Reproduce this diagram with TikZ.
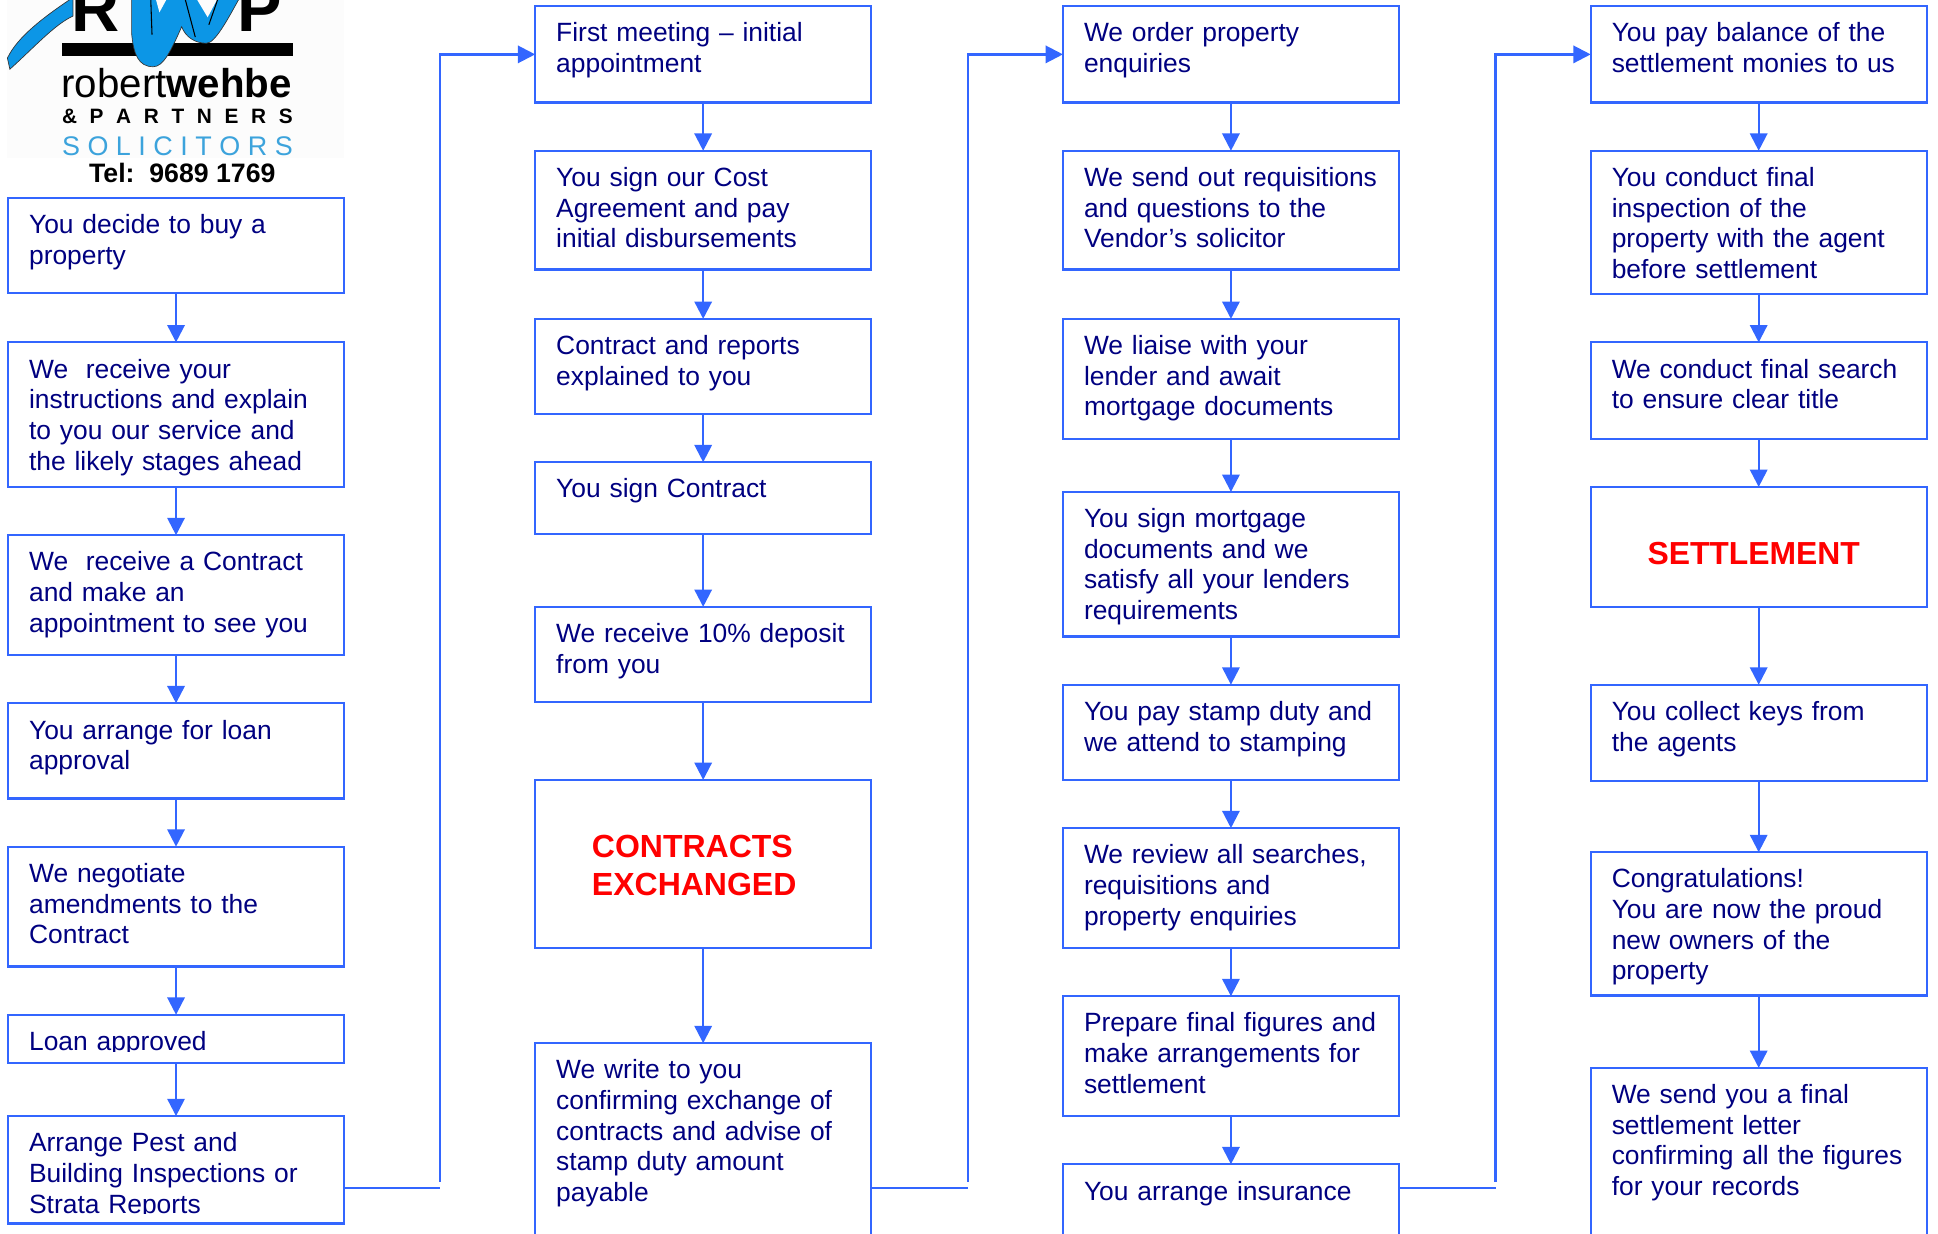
\documentclass[tikz,border=0pt]{standalone}
\usepackage{fontspec}
\setmainfont{Liberation Sans}
\usetikzlibrary{arrows.meta}
\definecolor{flowblue}{HTML}{3366FF}
\definecolor{flownavy}{HTML}{000080}
\definecolor{logoblue}{HTML}{0C96E6}
\definecolor{soliblue}{HTML}{3CA3DC}
\tikzset{
  stepbox/.style={draw=flowblue, line width=1.7pt, anchor=north west, outer sep=0pt,
    inner ysep=0pt, inner xsep=15.8pt, text width=220.4pt, align=left,
    text=flownavy, font=\fontsize{19.8}{23}\selectfont,
    text height=26.8pt, text depth=#1*0.927pt-26.8pt},
  keybox/.style 2 args={draw=flowblue, line width=1.7pt, anchor=north west, outer sep=0pt,
    inner ysep=0pt, inner xsep=42.6pt, text width=166.8pt, align=left,
    text=red, font=\fontsize{#2}{28.5}\selectfont\bfseries,
    text height=58.4pt, text depth=#1*0.927pt-58.4pt},
  flowline/.style={draw=flowblue, line width=1.7pt},
  flowarrow/.style={flowline, -{Triangle[length=13pt,width=13pt]}},
}
\begin{document}
\begin{tikzpicture}[x=0.927pt, y=-0.927pt]
  \clip (0,0) rectangle (1568,998);

  % logo
  \fill[black!1] (6,0) rectangle (278,128);
  \fill[black] (50.4,35) rectangle (236.8,45);
  \node[anchor=base west, inner sep=0pt, font=\fontsize{50}{50}\selectfont\bfseries] (logoR) at (58,25.6) {R};
  \node[anchor=base west, inner sep=0pt, font=\fontsize{50}{50}\selectfont\bfseries] (logoP) at (192,25.6) {P};
  \filldraw[fill=logoblue, draw=black!80, line width=.5pt] (6,47) .. controls (14,30) and (35,14) .. (59,-2) -- (59,13) .. controls (44,20) and (28,38) .. (8,56) -- cycle;
  \filldraw[fill=logoblue, draw=black!80, line width=.5pt] (106.5,-2) -- (106.5,27) .. controls (108,44) and (112,54) .. (124,54)
    .. controls (132,54) and (138,42) .. (147,21.6) .. controls (150,30) and (158,35) .. (167,35)
    .. controls (174,35) and (184,16) .. (194,-2) -- cycle;
  \fill[black!1] (126,-1) -- (129,10) -- (135,-1) -- cycle;
  \fill[black!1] (159,-1) -- (168,14) -- (176,-1) -- cycle;
  \draw[black, line width=.8pt] (122,0) -- (123,28) (150,0) -- (158,30) (176,0) -- (169,20);
  \node[anchor=base west, inner sep=0pt, font=\fontsize{30.2}{30}\selectfont] (logoname) at (49.5,78.7) {robert\textbf{wehbe}};
  \node[anchor=base west, inner sep=0pt, font=\fontsize{15.6}{16}\selectfont\bfseries] (logopart) at (50,100.3)
    {\makebox[173pt][s]{\&\hfill P\hfill A\hfill R\hfill T\hfill N\hfill E\hfill R\hfill S}};
  \node[anchor=base west, inner sep=0pt, text=soliblue, font=\fontsize{20.2}{21}\selectfont] (logosoli) at (50,126)
    {\makebox[173pt][s]{S\hfill O\hfill L\hfill I\hfill C\hfill I\hfill T\hfill O\hfill R\hfill S}};
  \node[anchor=base, inner sep=0pt, font=\fontsize{20}{21}\selectfont\bfseries] (tel) at (147.5,147.5) {Tel:\ \ 9689 1769};

  % first column
  \node[stepbox=77]  (a1) at (6.5,160) {You decide to buy a\\property};
  \node[stepbox=117] (a2) at (6.5,277) {We\ \ receive your\\instructions and explain\\to you our service and\\the likely stages ahead};
  \node[stepbox=97]  (a3) at (6.5,433) {We\ \ receive a Contract\\and make an\\appointment to see you};
  \node[stepbox=77]  (a4) at (6.5,569) {You arrange for loan\\approval};
  \node[stepbox=97]  (a5) at (6.5,685) {We negotiate\\amendments to the\\Contract};
  \node[stepbox=39]  (a6) at (6.5,821) {Loan approved};
  \node[stepbox=87]  (a7) at (6.5,903) {Arrange Pest and\\Building Inspections or\\Strata Reports};
  % descenders are cut off in these two
  \fill[white] (8,851) rectangle (277,858.5);
  \fill[white] (8,982) rectangle (277,988.5);

  % second column
  \node[stepbox=78]  (b1) at (433,5)   {First meeting – initial\\appointment};
  \node[stepbox=96]  (b2) at (433,122) {You sign our Cost\\Agreement and pay\\initial disbursements};
  \node[stepbox=77]  (b3) at (433,258) {Contract and reports\\explained to you};
  \node[stepbox=58]  (b4) at (433,374) {You sign Contract};
  \node[stepbox=77]  (b5) at (433,491) {We receive 10\% deposit\\from you};
  \node[keybox={136}{24}] (b6) at (433,631) {CONTRACTS\\EXCHANGED};
  \node[stepbox=170] (b7) at (433,844) {We write to you\\confirming exchange of\\contracts and advise of\\stamp duty amount\\payable};

  % third column
  \node[stepbox=78]  (c1) at (860,5)   {We order property\\enquiries};
  \node[stepbox=96]  (c2) at (860,122) {We send out requisitions\\and questions to the\\Vendor’s solicitor};
  \node[stepbox=97]  (c3) at (860,258) {We liaise with your\\lender and await\\mortgage documents};
  \node[stepbox=117] (c4) at (860,398) {You sign mortgage\\documents and we\\satisfy all your lenders\\requirements};
  \node[stepbox=77]  (c5) at (860,554) {You pay stamp duty and\\we attend to stamping};
  \node[stepbox=97]  (c6) at (860,670) {We review all searches,\\requisitions and\\property enquiries};
  \node[stepbox=97]  (c7) at (860,806) {Prepare final figures and\\make arrangements for\\settlement};
  \node[stepbox=70]  (c8) at (860,942) {You arrange insurance};

  % fourth column
  \node[stepbox=78]  (d1) at (1287,5)   {You pay balance of the\\settlement monies to us};
  \node[stepbox=116] (d2) at (1287,122) {You conduct final\\inspection of the\\property with the agent\\before settlement};
  \node[stepbox=78]  (d3) at (1287,277) {We conduct final search\\to ensure clear title};
  \node[keybox={97}{23.9}] (d4) at (1287,394) {SETTLEMENT};
  \node[stepbox=78]  (d5) at (1287,554) {You collect keys from\\the agents};
  \node[stepbox=116] (d6) at (1287,689.5) {Congratulations!\\You are now the proud\\new owners of the\\property};
  \node[stepbox=150] (d7) at (1287,864) {We send you a final\\settlement letter\\confirming all the figures\\for your records};

  \foreach \from/\to in {a1/a2,a2/a3,a3/a4,a4/a5,a5/a6,a6/a7,
                         b1/b2,b2/b3,b3/b4,b4/b5,b5/b6,b6/b7,
                         c1/c2,c2/c3,c3/c4,c4/c5,c5/c6,c6/c7,c7/c8,
                         d1/d2,d2/d3,d3/d4,d4/d5,d5/d6,d6/d7} {
    \draw[flowarrow] (\from) -- (\to);
  }

  % column to column
  \foreach \from/\to/\x in {a7/b1/356,b7/c1/783,c8/d1/1210} {
    \coordinate (turn\from) at (\x,961);
    \coordinate (rise\from) at (\x,956);
    \draw[flowline] (\from.east |- turn\from) -- (turn\from);
    \draw[flowarrow] (rise\from) |- (\to.west);
  }
\end{tikzpicture}
\end{document}
